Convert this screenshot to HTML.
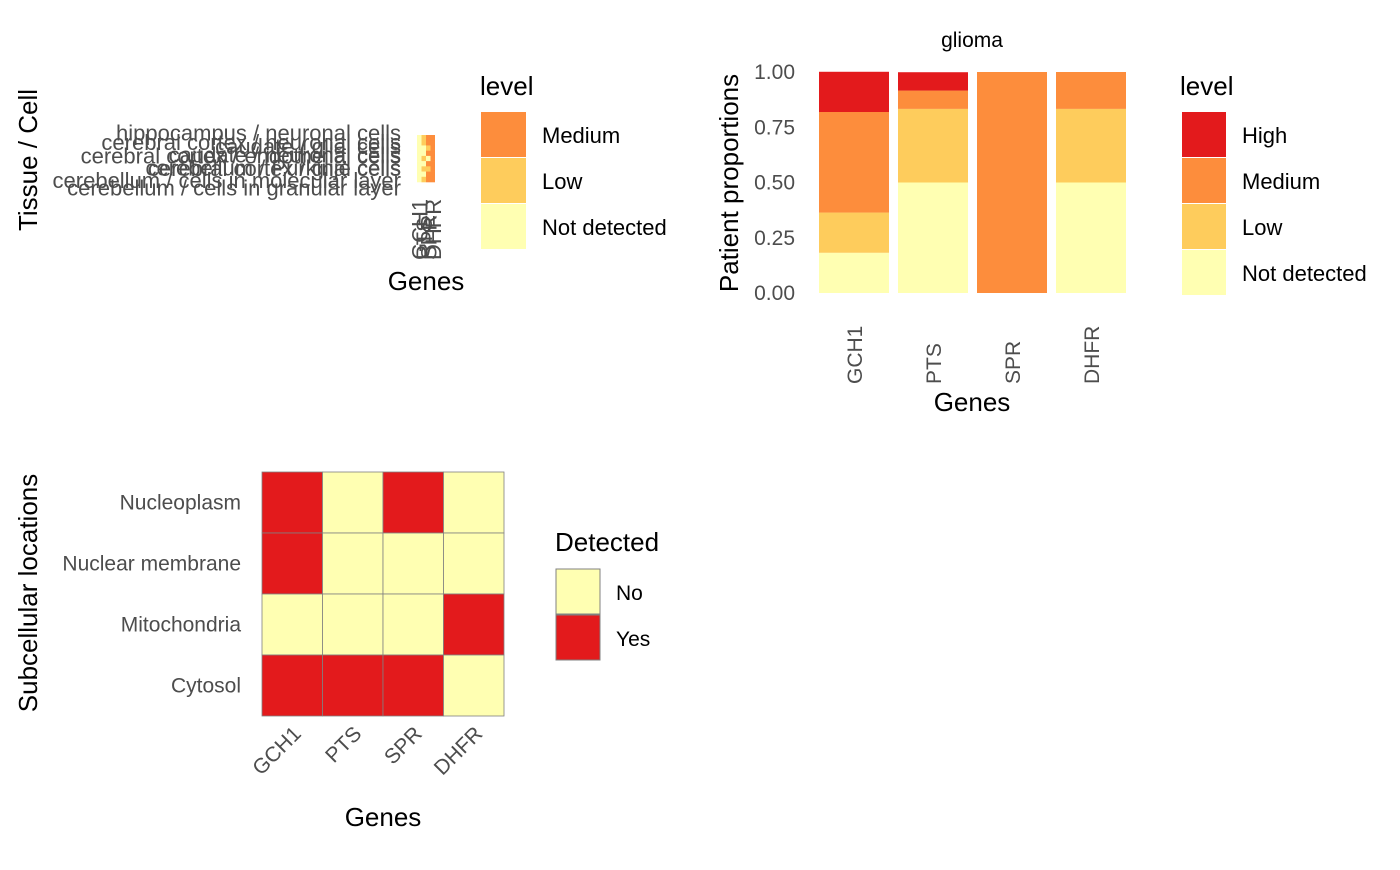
<!DOCTYPE html>
<html><head><meta charset="utf-8"><style>
body{margin:0;background:#fff;font-family:"Liberation Sans",sans-serif}
svg text{font-family:"Liberation Sans",sans-serif}
</style></head><body>
<svg width="1400" height="865" xmlns="http://www.w3.org/2000/svg">
<g id="p1">
<text transform="translate(37,160) rotate(-90)" text-anchor="middle" font-size="26" fill="#000">Tissue / Cell</text>
<text x="426" y="290" text-anchor="middle" font-size="26" fill="#000">Genes</text>
<g id="tlabels" font-size="22" fill="#4d4d4d" text-anchor="end"></g>
<g id="tcells"></g>
<g id="tgenes" font-size="22" fill="#4d4d4d"></g>
<text x="480" y="95" font-size="26" fill="#000">level</text>
<rect x="481" y="112" width="45" height="45" fill="#fd8d3c"/>
<rect x="481" y="158" width="45" height="45" fill="#fecc5c"/>
<rect x="481" y="204" width="45" height="45" fill="#ffffb2"/>
<text x="542" y="143" font-size="22">Medium</text>
<text x="542" y="189" font-size="22">Low</text>
<text x="542" y="235" font-size="22">Not detected</text>
</g>
<g id="p2">
<text x="972" y="47" text-anchor="middle" font-size="21">glioma</text>
<text transform="translate(738,183) rotate(-90)" text-anchor="middle" font-size="26">Patient proportions</text>
<text x="972" y="411" text-anchor="middle" font-size="26">Genes</text>
<g id="bars"></g><g id="yticks" font-size="21" fill="#4d4d4d" text-anchor="end"></g><g id="xticks" font-size="21" fill="#4d4d4d"></g>
<text x="1180" y="95" font-size="26">level</text>
<g id="leg2"></g>
</g>
<g id="p3">
<text transform="translate(37,593) rotate(-90)" text-anchor="middle" font-size="26">Subcellular locations</text>
<text x="383" y="826" text-anchor="middle" font-size="26">Genes</text>
<g id="scells"></g><g id="slabels" font-size="21" fill="#4d4d4d"></g>
<text x="555" y="551" font-size="26">Detected</text>
<rect x="556" y="569" width="44" height="45" fill="#ffffb2" stroke="#808080"/>
<rect x="556" y="615" width="44" height="45" fill="#e31a1c" stroke="#808080"/>
<text x="616" y="600" font-size="21">No</text>
<text x="616" y="646" font-size="21">Yes</text>
</g>
</svg>
<script>
const NS="http://www.w3.org/2000/svg";
function mk(p,t,a,txt){const e=document.createElementNS(NS,t);for(const k in a)e.setAttribute(k,a[k]);if(txt!==undefined)e.textContent=txt;document.getElementById(p).appendChild(e);return e;}
const genes=["GCH1","PTS","SPR","DHFR"];
const colors={"High":"#e31a1c","Medium":"#fd8d3c","Low":"#fecc5c","Not detected":"#ffffb2"};
const tissues=["hippocampus / neuronal cells","caudate / glial cells","cerebral cortex / neuronal cells","caudate / neuronal cells","cerebral cortex / endothelial cells","cerebellum / Purkinje cells","cerebral cortex / glial cells","cerebellum / cells in molecular layer","cerebellum / cells in granular layer"];
const tlevels=[["Not detected","Low","Medium","Medium"],["Not detected","Low","Medium","Medium"],["Not detected","Not detected","Low","Medium"],["Not detected","Not detected","Medium","Medium"],["Not detected","Low","Not detected","Medium"],["Not detected","Not detected","Medium","Medium"],["Not detected","Low","Low","Medium"],["Not detected","Not detected","Medium","Medium"],["Not detected","Low","Medium","Medium"]];
const tx0=417,tcw=4.5,ty0=135,tch=47/tissues.length;
const tyOff=[-2,6,-3,4,0,7,2,9,11];
tissues.forEach((t,i)=>{
 const e=mk("tlabels","text",{x:401,y:ty0+tch*(i+0.5)+7+tyOff[i]-2},t);
 
 
 tlevels[i].forEach((l,j)=>{
  const r=mk("tcells","rect",{x:tx0+j*tcw,y:ty0+i*tch,width:tcw,height:tch+0.3,fill:colors[l]});
  
  
 });
});
genes.forEach((g,j)=>{
 const e=mk("tgenes","text",{transform:`translate(${tx0+j*tcw+tcw/2+8},${260}) rotate(-90)`},g);
 
 
});
const levelsOrder=["Not detected","Low","Medium","High"];
const ndVals=[0.182,0.5,0,0.5];
const lowVals=[0.182,0.333,0,0.333];
const medVals=[0.455,0.083,1,0.167];
const highVals=[0.182,0.083,0,0];
const yTicks=[0,0.25,0.5,0.75,1];
const yTickLabels=["0.00","0.25","0.50","0.75","1.00"];
const Y=v=>293-v*221, X=i=>819+i*79, BW=70;
genes.forEach((g,i)=>{
 let acc=0;
 [ndVals,lowVals,medVals,highVals].forEach((arr,k)=>{
  const v=arr[i]; if(v<=0)return;
  const r=mk("bars","rect",{x:X(i),y:Y(acc+v),width:BW,height:Y(acc)-Y(acc+v),fill:colors[levelsOrder[k]]});
  
  
  acc+=v;
 });
 const t=mk("xticks","text",{transform:`translate(${X(i)+BW/2+8},384) rotate(-90)`},g);
 
 
});
yTicks.forEach((v,i)=>{
 const t=mk("yticks","text",{x:795,y:Y(v)+7},yTickLabels[i]);
 
 
});
["High","Medium","Low","Not detected"].forEach((l,i)=>{
 const r=mk("leg2","rect",{x:1182,y:112+i*46,width:44,height:45,fill:colors[l]});
 
 
 const t=mk("leg2","text",{x:1242,y:143+i*46,"font-size":22},l);
 
 
});
const locations=["Nucleoplasm","Nuclear membrane","Mitochondria","Cytosol"];
const detected=[[1,0,1,0],[1,0,0,0],[0,0,0,1],[1,1,1,0]];
const sx0=262,scw=60.5,sy0=472,sch=61;
locations.forEach((loc,i)=>{
 const t=mk("slabels","text",{x:241,y:sy0+sch*(i+0.5)+7,"text-anchor":"end"},loc);
 
 
 detected[i].forEach((d,j)=>{
  const r=mk("scells","rect",{x:sx0+j*scw,y:sy0+i*sch,width:scw,height:sch,fill:d?"#e31a1c":"#ffffb2",stroke:"#808080","stroke-width":0.8});
  
  
 });
});
genes.forEach((g,j)=>{
 const t=mk("slabels","text",{transform:`translate(${sx0+j*scw+scw/2+10},735) rotate(-45)`,"text-anchor":"end"},g);
 
 
});
</script>
</body></html>
